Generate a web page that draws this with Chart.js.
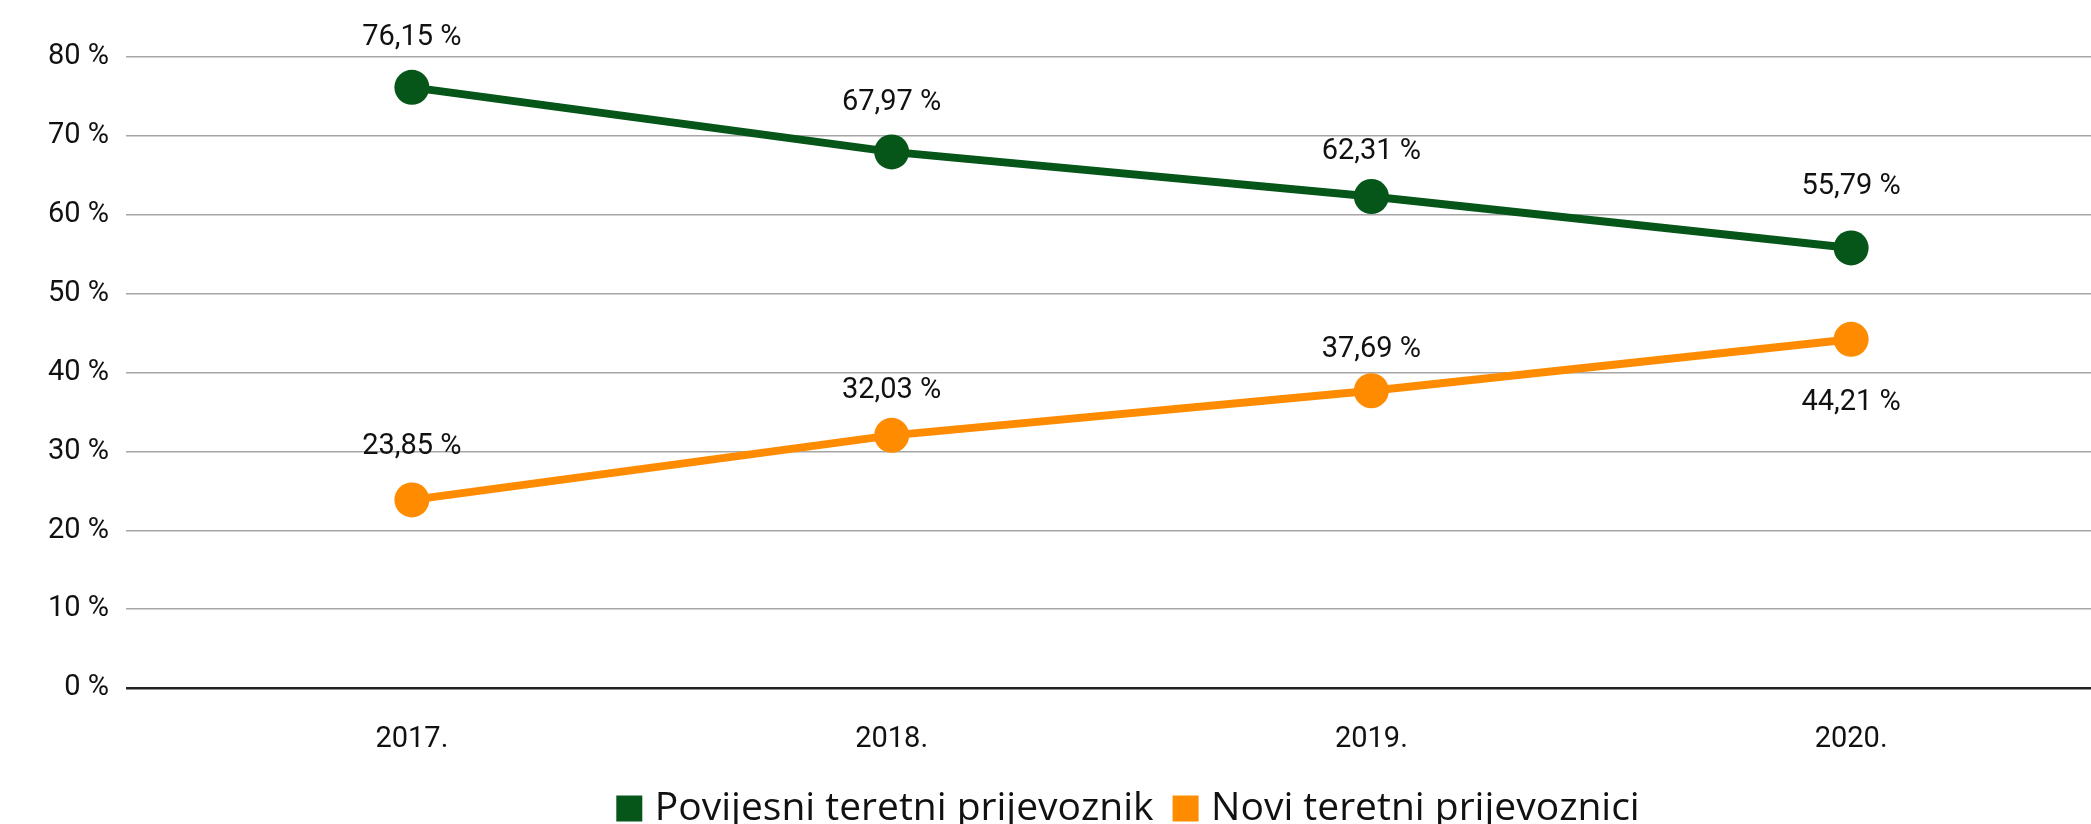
<!DOCTYPE html>
<html lang="hr">
<head>
<meta charset="utf-8">
<title>Teretni prijevoznici</title>
<script src="https://cdn.jsdelivr.net/npm/chart.js@4.4.1/dist/chart.umd.min.js"></script>
<style>
  html, body { margin: 0; padding: 0; background: #fff; overflow: hidden; }
  #wrap { position: relative; width: 2091px; height: 838px; }
</style>
</head>
<body>
<div id="wrap"><canvas id="grafTeret"></canvas></div>
<script>
// podaci
const godine = ['2017.', '2018.', '2019.', '2020.'];
const povijesni = [76.15, 67.97, 62.31, 55.79];
const novi = [23.85, 32.03, 37.69, 44.21];
const yOznake = [0, 10, 20, 30, 40, 50, 60, 70, 80];

const ZELENA = '#06561a';
const NARANCASTA = '#ff8c00';
const FONT = 'Roboto, "Open Sans", sans-serif';

// pomak natpisa vrijednosti od točke (px), po seriji
const pomaciNatpisa = [
  [-50, -49, -45, -61],
  [-53, -45, -41, 63]
];

function postotak(v) {
  return v.toFixed(2).replace('.', ',') + ' %';
}

// crta vrijednosti iznad/ispod točaka
const natpisiPlugin = {
  id: 'natpisi',
  afterDatasetsDraw(chart) {
    const ctx = chart.ctx;
    ctx.save();
    ctx.font = '29px ' + FONT;
    ctx.fillStyle = '#111111';
    ctx.textAlign = 'center';
    ctx.textBaseline = 'middle';
    chart.data.datasets.forEach((ds, i) => {
      const meta = chart.getDatasetMeta(i);
      meta.data.forEach((pt, j) => {
        ctx.fillText(postotak(ds.data[j]), pt.x, pt.y + pomaciNatpisa[i][j]);
      });
    });
    ctx.restore();
  }
};

const ctx = document.getElementById('grafTeret').getContext('2d');
window.grafTeret = new Chart(ctx, {
  type: 'line',
  data: {
    labels: godine,
    datasets: [
      {
        label: 'Povijesni teretni prijevoznik',
        data: povijesni,
        borderColor: ZELENA,
        backgroundColor: ZELENA,
        pointBackgroundColor: ZELENA
      },
      {
        label: 'Novi teretni prijevoznici',
        data: novi,
        borderColor: NARANCASTA,
        backgroundColor: NARANCASTA,
        pointBackgroundColor: NARANCASTA
      }
    ]
  },
  options: {
    responsive: true,
    maintainAspectRatio: false,
    animation: false,
    layout: {
      autoPadding: false,
      padding: { top: 57, left: 0, right: 0, bottom: 0 }
    },
    elements: {
      line: { borderWidth: 8, tension: 0 },
      point: { radius: 17.5, hoverRadius: 17.5, borderWidth: 0 }
    },
    plugins: {
      tooltip: { enabled: false },
      legend: {
        position: 'bottom',
        fullSize: false,
        labels: {
          font: { family: '"Open Sans", sans-serif', size: 39 },
          color: '#111111',
          // kvadratić 12 px + rub 14 px = 26 px
          boxWidth: 12,
          boxHeight: 12,
          padding: 26,
          generateLabels(chart) {
            return Chart.defaults.plugins.legend.labels.generateLabels(chart)
              .map(l => Object.assign(l, { lineWidth: 14 }));
          }
        }
      }
    },
    scales: {
      x: {
        offset: true,
        grid: { display: false, drawTicks: false },
        border: { display: false },
        ticks: {
          font: { family: FONT, size: 29 },
          color: '#111111',
          padding: 34
        },
        afterFit(scale) {
          scale.height = 75;
        }
      },
      y: {
        min: 0,
        max: 80,
        afterBuildTicks(scale) {
          scale.ticks = yOznake.map(v => ({ value: v }));
        },
        grid: {
          color: c => c.tick && c.tick.value === 0 ? '#222222' : '#a6a6a6',
          lineWidth: c => c.tick && c.tick.value === 0 ? 2.5 : 1.5,
          tickLength: 46
        },
        border: { display: false },
        ticks: {
          font: { family: FONT, size: 29 },
          color: '#111111',
          padding: 17,
          callback: v => v + ' %'
        },
        afterFit(scale) { scale.width = 172; }
      }
    }
  },
  plugins: [natpisiPlugin]
});
</script>
</body>
</html>
